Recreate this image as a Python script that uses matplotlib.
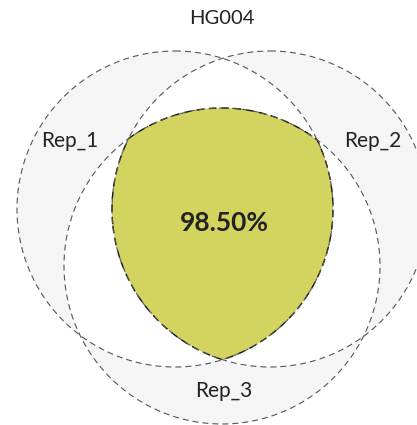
import numpy as np
import matplotlib.pyplot as plt
from matplotlib.patches import Circle, Polygon

plt.rcParams['font.family'] = ['Lato', 'DejaVu Sans']

title = "HG004"
set_labels = ["Rep_1", "Rep_2", "Rep_3"]
overlap_pct = 98.50

only_color = "#f5f5f5"
pair_color = "#ffffff"
triple_color = "#d3d35f"
edge_color = "#555555"

# layout (pixel units)
W, H = 417, 425
r = 158
centers = [(175, 209), (270, 209), (222, 266)]


def inside(pts, c, rad):
    return np.hypot(pts[:, 0] - c[0], pts[:, 1] - c[1]) <= rad + 1e-9


def region(idx):
    """Intersection polygon of the circles with indices idx (convex)."""
    t = np.linspace(0, 2 * np.pi, 3000, endpoint=False)
    pts = []
    for i in idx:
        c = centers[i]
        p = np.column_stack([c[0] + r * np.cos(t), c[1] + r * np.sin(t)])
        keep = np.ones(len(p), bool)
        for j in idx:
            if j != i:
                keep &= inside(p, centers[j], r)
        pts.append(p[keep])
    pts = np.vstack(pts)
    m = pts.mean(axis=0)
    order = np.argsort(np.arctan2(pts[:, 1] - m[1], pts[:, 0] - m[0]))
    return pts[order]


fig = plt.figure(figsize=(W / 100, H / 100), dpi=100)
ax = fig.add_axes([0, 0, 1, 1])
ax.set_xlim(0, W)
ax.set_ylim(H, 0)
ax.axis("off")

for c in centers:
    ax.add_patch(Circle(c, r, facecolor=only_color, edgecolor="none"))
for pair in [(0, 1), (0, 2), (1, 2)]:
    ax.add_patch(Polygon(region(pair), closed=True, facecolor=pair_color, edgecolor="none"))
tri = region((0, 1, 2))
ax.add_patch(Polygon(tri, closed=True, facecolor=triple_color, edgecolor="#111111",
                     linewidth=1.0, linestyle=(0, (5.4, 3.6))))
for c in centers:
    ax.add_patch(Circle(c, r, facecolor="none", edgecolor=edge_color,
                        linewidth=0.8, linestyle=(0, (5.4, 3.6))))

ax.text(224, 223, f"{overlap_pct:.2f}%", ha="center", va="center",
        fontsize=19, fontweight="bold", color="#222222")
label_pos = [(70, 141), (373, 141), (224, 391)]
for lab, (x, y) in zip(set_labels, label_pos):
    ax.text(x, y, lab, ha="center", va="center", fontsize=15, color="#222222")
ax.text(222, 18, title, ha="center", va="center", fontsize=14.5, color="#222222")

fig.savefig("out.png", dpi=100)
